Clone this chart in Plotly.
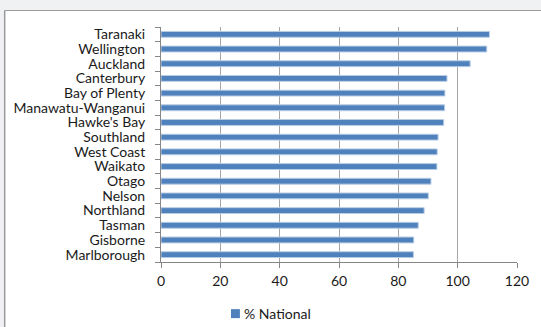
import plotly.graph_objects as go

regions = ["Taranaki", "Wellington", "Auckland", "Canterbury", "Bay of Plenty",
           "Manawatu-Wanganui", "Hawke's Bay", "Southland", "West Coast", "Waikato",
           "Otago", "Nelson", "Northland", "Tasman", "Gisborne", "Marlborough"]
pct_national = [110.7, 109.8, 104.2, 96.4, 95.7, 95.6, 95.3, 93.4, 93.1, 93.0,
                91.0, 90.1, 88.7, 86.7, 85.2, 85.1]
x_ticks = [0, 20, 40, 60, 80, 100, 120]
series_name = "% National"

W, H = 541, 327
L, R, T, B = 161, 21.3, 27, 64.7
pw, ph = W - L - R, H - T - B


def fx(px):
    return (px - L) / pw


def fy(py):
    return (H - B - py) / ph


bar_color = "#4f81bd"

fig = go.Figure(go.Bar(
    y=regions, x=pct_national, orientation="h", name=series_name,
    marker=dict(color=bar_color, line=dict(color="#b9cde5", width=1)),
    width=0.4,
))

font = "Lato, 'Open Sans', sans-serif"
grid = "#a6a6a6"

shapes = [
    # grey frame strips around the chart area
    dict(type="rect", xref="paper", yref="paper", x0=fx(-5), x1=fx(W + 5),
         y0=fy(10.5), y1=fy(-5), fillcolor="#f0f1f3", line_width=0, layer="below"),
    dict(type="rect", xref="paper", yref="paper", x0=fx(-5), x1=fx(3),
         y0=fy(H + 5), y1=fy(-5), fillcolor="#f0f1f3", line_width=0, layer="below"),
    dict(type="line", xref="paper", yref="paper", x0=fx(3.5), x1=fx(W + 5),
         y0=fy(10.5), y1=fy(10.5), line=dict(color="#9a9a9a", width=1)),
    dict(type="line", xref="paper", yref="paper", x0=fx(3.5), x1=fx(3.5),
         y0=fy(10.5), y1=fy(H + 5), line=dict(color="#9a9a9a", width=1.5)),
    # legend key
    dict(type="rect", xref="paper", yref="paper", x0=fx(231.5), x1=fx(240.5),
         y0=fy(318.5), y1=fy(309.5), fillcolor=bar_color, line_width=0),
]

fig.update_layout(
    width=W, height=H,
    margin=dict(l=L, r=R, t=T, b=B, pad=0),
    paper_bgcolor="white", plot_bgcolor="white",
    font=dict(family=font, size=14, color="#1a1a1a"),
    showlegend=False,
    shapes=shapes,
    annotations=[dict(text=series_name, xref="paper", yref="paper",
                      x=fx(242.5), y=fy(314), xanchor="left", yanchor="middle",
                      showarrow=False, font=dict(size=14))],
    xaxis=dict(range=[0, 120], tickvals=x_ticks, showgrid=True, gridcolor=grid,
               gridwidth=1, zeroline=False, showline=True, linecolor="#868686",
               ticks="outside", ticklen=5, tickcolor="#868686", fixedrange=True,
               ticklabelstandoff=1),
    yaxis=dict(categoryorder="array", categoryarray=regions, autorange="reversed",
               tickmode="array", tickvals=regions,
               showgrid=False, showline=True, linecolor="#868686",
               ticks="outside", ticklen=5, tickcolor="#868686",
               tickson="boundaries", ticklabelstandoff=12),
)

fig.write_html("out.html")
